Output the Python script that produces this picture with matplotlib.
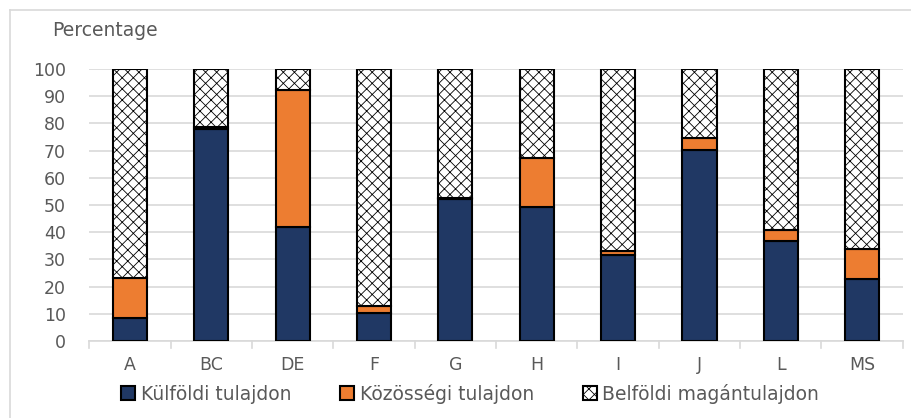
import numpy as np
import matplotlib.pyplot as plt
from matplotlib.patches import Rectangle
from matplotlib.lines import Line2D

plt.rcParams['font.family'] = ['DejaVu Sans']
plt.rcParams['hatch.color'] = '#777777'
plt.rcParams['hatch.linewidth'] = 0.6

# ownership shares by sector (%)
sectors = ['A', 'BC', 'DE', 'F', 'G', 'H', 'I', 'J', 'L', 'MS']
kulfoldi = [8.5, 78.0, 41.9, 10.3, 52.2, 49.4, 31.5, 70.2, 36.8, 23.0]
kozossegi = [14.7, 0.8, 50.4, 2.6, 0.5, 17.9, 1.6, 4.5, 4.0, 10.7]
belfoldi = [76.8, 21.2, 7.7, 87.1, 47.3, 32.7, 66.9, 25.3, 59.2, 66.3]
series_names = ['Külföldi tulajdon', 'Közösségi tulajdon', 'Belföldi magántulajdon']

navy = '#203864'
orange = '#ED7D31'
txt = '#595959'

fig = plt.figure(figsize=(9.11, 4.18), dpi=100)
ax = fig.add_axes([0.098, 0.184, 0.893, 0.651])

x = np.arange(len(sectors))
w = 0.42
k1 = np.array(kulfoldi)
k2 = np.array(kozossegi)
ax.bar(x, k1, w, color=navy, edgecolor='black', linewidth=1.5, zorder=3)
ax.bar(x, k2, w, bottom=k1, color=orange, edgecolor='black', linewidth=1.5, zorder=3)
ax.bar(x, belfoldi, w, bottom=k1 + k2, color='white', edgecolor='black',
       linewidth=1.5, hatch='xxx', zorder=3)

ax.set_xlim(-0.5, len(sectors) - 0.5)
ax.set_ylim(0, 100)
ax.set_yticks(range(0, 101, 10))
ax.grid(axis='y', color='#d9d9d9', linewidth=1.2, zorder=0)
for s in ['top', 'right', 'left']:
    ax.spines[s].set_visible(False)
ax.spines['bottom'].set_color('#d9d9d9')
ax.spines['bottom'].set_linewidth(1.2)
ax.set_xticks(x)
ax.set_xticklabels(sectors)
ax.tick_params(axis='x', length=0, pad=11, labelsize=12.5, labelcolor=txt)
ax.tick_params(axis='y', length=0, pad=17, labelsize=12.5, labelcolor=txt)
# category separators below the axis
for b in np.arange(-0.5, len(sectors), 1.0):
    ax.plot([b, b], [0, -2.6], color='#d9d9d9', lw=1.2, clip_on=False)

fig.text(0.057, 0.928, 'Percentage', fontsize=13.5, color=txt, ha='left', va='center')

handles = [Rectangle((0, 0), 1, 1, facecolor=navy, edgecolor='black', lw=1.5),
           Rectangle((0, 0), 1, 1, facecolor=orange, edgecolor='black', lw=1.5),
           Rectangle((0, 0), 1, 1, facecolor='white', edgecolor='black', lw=1.5, hatch='xxx')]
fig.legend(handles, series_names, loc='center', bbox_to_anchor=(0.516, 0.058), ncol=3,
           frameon=False, fontsize=13.5, labelcolor=txt, handlelength=0.75, handleheight=0.75,
           handletextpad=0.3, columnspacing=2.6)

# light outer frame
fig.add_artist(Line2D([10 / 911, 1], [1 - 10 / 418, 1 - 10 / 418], color='#d9d9d9', lw=1.2))
fig.add_artist(Line2D([10 / 911, 10 / 911], [0, 1 - 10 / 418], color='#d9d9d9', lw=1.2))

fig.savefig('out.png', dpi=100)
